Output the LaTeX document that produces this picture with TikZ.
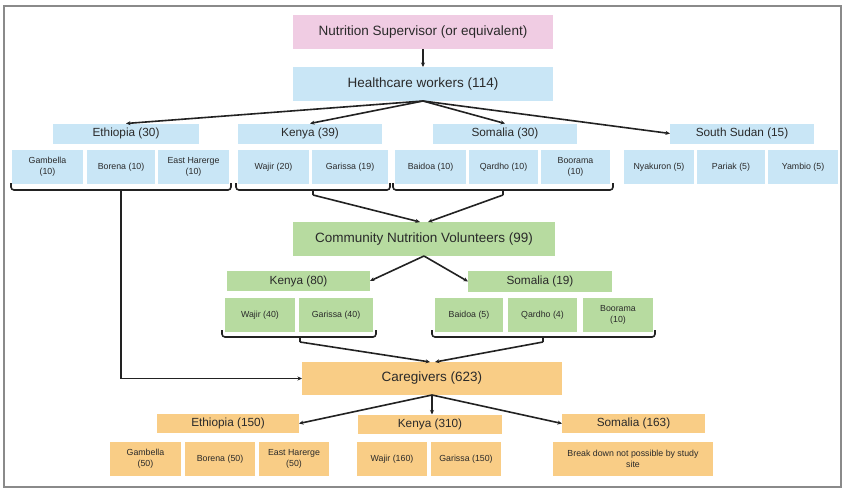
\documentclass[tikz,border=0pt]{standalone}
\usepackage{fontspec}
\setmainfont{Liberation Sans}
\usetikzlibrary{arrows.meta}
\definecolor{pinkc}{HTML}{F0CCE3}
\definecolor{bluec}{HTML}{C9E6F6}
\definecolor{greenc}{HTML}{B7DBA0}
\definecolor{orangec}{HTML}{F9CD86}
\definecolor{txtc}{HTML}{2A2A2A}
\definecolor{framec}{HTML}{8A8A8A}
\definecolor{linec}{HTML}{222222}
\tikzset{
  box/.style={rectangle, inner sep=0pt, outer sep=0pt, align=center, text=txtc},
  bigf/.style={font=\fontsize{13.5}{15}\selectfont},
  midf/.style={font=\fontsize{11.8}{13}\selectfont},
  smallf/.style={font=\fontsize{8.8}{11}\selectfont},
  pinkbox/.style={box, fill=pinkc},
  bluebox/.style={box, fill=bluec},
  greenbox/.style={box, fill=greenc},
  orangebox/.style={box, fill=orangec},
  arr/.style={draw=linec, line width=1.6pt, -{Stealth[length=4.5pt,width=4pt]}},
  bracel/.style={draw=linec, line width=1.6pt, rounded corners=3pt},
}
\newcommand{\mybox}[6]{\node[#1, minimum width=#4pt, minimum height=#5pt] (#2) at (#3) {#6};}
\newcommand{\mybrace}[4]{\draw[bracel] (#1,#4-7) -- (#1,#4) -- (#2,#4) -- (#2,#4-7); \draw[draw=linec, line width=1.6pt] (#3,#4) -- (#3,#4+5);}
\begin{document}
\begin{tikzpicture}[x=1pt,y=-1pt]
\useasboundingbox (0,0) rectangle (844,490);
\fill[white] (0,0) rectangle (844,490);
\draw[framec, line width=2.4pt] (4,6) rectangle (841,487);

% top
\mybox{pinkbox,bigf}{sup}{423,32}{260}{34}{Nutrition Supervisor (or equivalent)}
\mybox{bluebox,bigf}{hw}{423,84}{260}{34}{Healthcare workers (114)}

% HW countries
\mybox{bluebox,midf}{e1}{126,133.5}{146}{20}{Ethiopia (30)}
\mybox{bluebox,midf}{k1}{310,133.5}{144}{20}{Kenya (39)}
\mybox{bluebox,midf}{s1}{505,133.5}{144}{20}{Somalia (30)}
\mybox{bluebox,midf}{ss1}{742,133.5}{144}{20}{South Sudan (15)}

% HW sites
\mybox{bluebox,smallf}{g1}{47.5,167}{71}{34}{Gambella\\(10)}
\mybox{bluebox,smallf}{b1}{121,167}{68}{34}{Borena (10)}
\mybox{bluebox,smallf}{eh1}{193.5,167}{71}{34}{East Harerge\\(10)}
\mybox{bluebox,smallf}{wj1}{273.5,167}{71}{34}{Wajir (20)}
\mybox{bluebox,smallf}{ga1}{350,167}{76}{34}{Garissa (19)}
\mybox{bluebox,smallf}{bd1}{430.5,167}{71}{34}{Baidoa (10)}
\mybox{bluebox,smallf}{qd1}{503.5,167}{69}{34}{Qardho (10)}
\mybox{bluebox,smallf}{bo1}{575.5,167}{69}{34}{Boorama\\(10)}
\mybox{bluebox,smallf}{ny1}{659,167}{70}{34}{Nyakuron (5)}
\mybox{bluebox,smallf}{pa1}{731,167}{68}{34}{Pariak (5)}
\mybox{bluebox,smallf}{ya1}{803,167}{70}{34}{Yambio (5)}

\mybrace{11}{231}{121}{190}
\mybrace{236}{390}{313}{190}
\mybrace{393}{613}{503}{190}
\coordinate (eb1) at (121,195);
\coordinate (kb1) at (313,195);
\coordinate (sb1) at (503,195);

% CNV
\mybox{greenbox,bigf}{cnv}{424,239}{262}{34}{Community Nutrition Volunteers (99)}
\mybox{greenbox,midf}{k2}{298.5,281}{143}{20}{Kenya (80)}
\mybox{greenbox,midf}{s2}{540,281.5}{144}{21}{Somalia (19)}
\mybox{greenbox,smallf}{wj2}{260,315}{70}{34}{Wajir (40)}
\mybox{greenbox,smallf}{ga2}{336,315}{74}{34}{Garissa (40)}
\mybox{greenbox,smallf}{bd2}{469,315}{68}{34}{Baidoa (5)}
\mybox{greenbox,smallf}{qd2}{542.5,315}{69}{34}{Qardho (4)}
\mybox{greenbox,smallf}{bo2}{618,315}{70}{34}{Boorama\\(10)}

\mybrace{222}{376}{300}{337}
\mybrace{432}{655}{543}{337}
\coordinate (kb2) at (300,342);
\coordinate (sb2) at (543,342);

% Caregivers
\mybox{orangebox,bigf}{cg}{432,378.5}{260}{33}{Caregivers (623)}
\mybox{orangebox,midf}{e3}{228,423.5}{142}{19}{Ethiopia (150)}
\mybox{orangebox,midf}{k3}{430,424}{144}{19}{Kenya (310)}
\mybox{orangebox,midf}{s3}{633.5,423.5}{143}{19}{Somalia (163)}
\mybox{orangebox,smallf}{g3}{145.5,459}{71}{34}{Gambella\\(50)}
\mybox{orangebox,smallf}{b3}{220,459}{70}{34}{Borena (50)}
\mybox{orangebox,smallf}{eh3}{294,459}{70}{34}{East Harerge\\(50)}
\mybox{orangebox,smallf}{wj3}{392,459}{70}{34}{Wajir (160)}
\mybox{orangebox,smallf}{ga3}{466,459}{70}{34}{Garissa (150)}
\mybox{orangebox,smallf}{bk3}{633,459}{160}{34}{Break down not possible by study\\site}

% connectors
\draw[arr] (sup.south) -- (hw.north);
\draw[arr] (hw.south) -- (e1.north);
\draw[arr] (hw.south) -- (k1.north);
\draw[arr] (hw.south) -- (s1.north);
\draw[arr] (hw.south) -- (ss1.west);

\draw[arr] (kb1) -- ([xshift=-4pt]cnv.north);
\draw[arr] (sb1) -- ([xshift=4pt]cnv.north);
\draw[arr] (eb1) |- (cg.west);

\draw[arr] (cnv.south) -- (k2.east);
\draw[arr] (cnv.south) -- (s2.west);

\draw[arr] (kb2) -- ([xshift=-2pt]cg.north);
\draw[arr] (sb2) -- ([xshift=3pt]cg.north);

\draw[arr] (cg.south) -- (e3.east);
\draw[arr] (cg.south) -- ([xshift=2pt]k3.north);
\draw[arr] (cg.south) -- (s3.west);
\end{tikzpicture}
\end{document}
